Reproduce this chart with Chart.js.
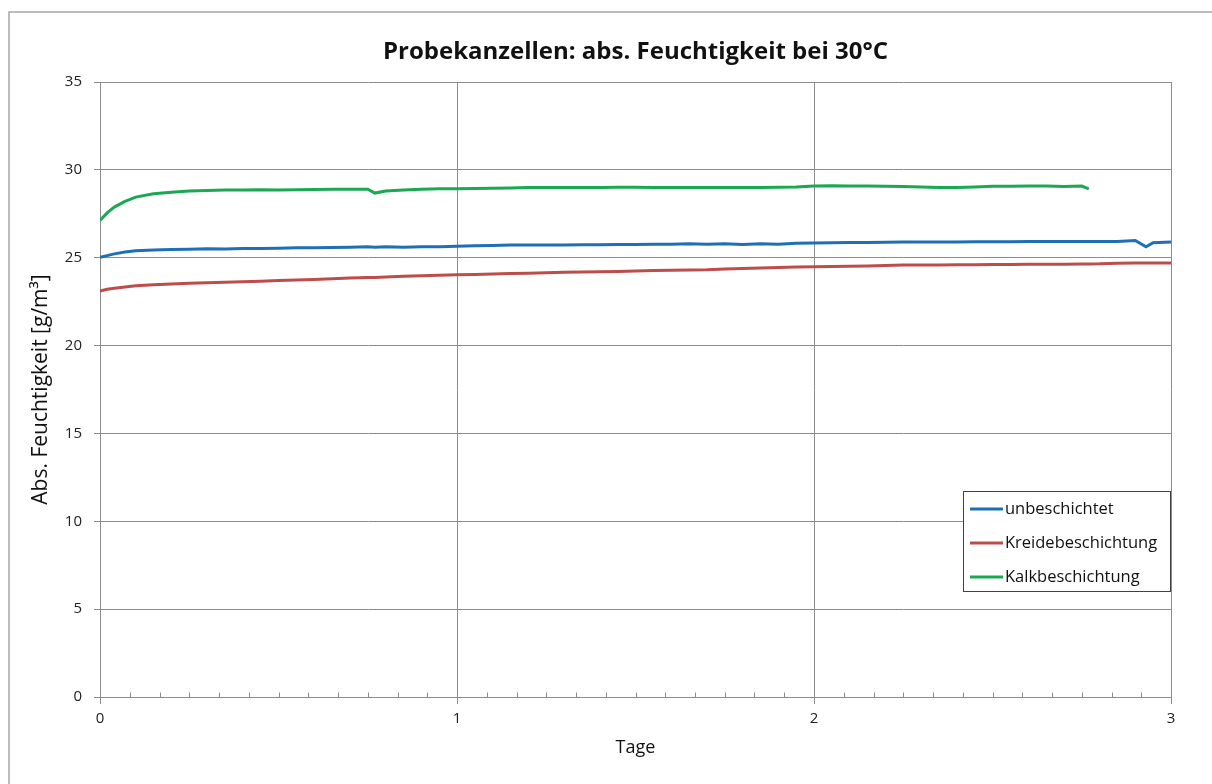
<!DOCTYPE html>
<html>
<head>
<meta charset="utf-8">
<script src="https://cdn.jsdelivr.net/npm/chart.js@4"></script>
<style>
  html, body { margin: 0; padding: 0; background: #fff; }
  #wrap { position: relative; width: 1212px; height: 784px; }
</style>
</head>
<body>
<div id="wrap"><canvas id="chart"></canvas></div>
<script>
// Zeit in Tagen
const tage = [0, 0.02, 0.04, 0.07, 0.1, 0.15, 0.2, 0.25, 0.3, 0.35, 0.4, 0.45, 0.5, 0.55, 0.6, 0.65, 0.7, 0.75, 0.77,
  0.8, 0.85, 0.9, 0.95, 1.0, 1.05, 1.1, 1.15, 1.2, 1.25, 1.3, 1.35, 1.4, 1.45, 1.5, 1.55, 1.6, 1.65, 1.7, 1.75,
  1.8, 1.85, 1.9, 1.95, 2.0, 2.05, 2.1, 2.15, 2.2, 2.25, 2.3, 2.35, 2.4, 2.45, 2.5, 2.55, 2.6, 2.65, 2.7, 2.75, 2.77,
  2.8, 2.85, 2.9, 2.93, 2.95, 3.0];

// abs. Feuchtigkeit [g/m³]
const unbeschichtet = [25.02, 25.12, 25.22, 25.32, 25.4, 25.44, 25.47, 25.48, 25.51, 25.5, 25.52, 25.53, 25.54, 25.56, 25.57, 25.58, 25.6, 25.62, 25.6,
  25.62, 25.6, 25.62, 25.63, 25.65, 25.68, 25.7, 25.72, 25.72, 25.72, 25.73, 25.74, 25.74, 25.75, 25.75, 25.76, 25.77, 25.8, 25.76, 25.79,
  25.75, 25.8, 25.77, 25.82, 25.84, 25.85, 25.86, 25.87, 25.88, 25.9, 25.9, 25.9, 25.9, 25.91, 25.91, 25.91, 25.92, 25.92, 25.92, 25.92, 25.92,
  25.92, 25.92, 25.98, 25.62, 25.85, 25.9];

const kreide = [23.1, 23.2, 23.26, 23.33, 23.4, 23.46, 23.5, 23.54, 23.57, 23.6, 23.63, 23.66, 23.7, 23.73, 23.76, 23.8, 23.84, 23.87, 23.88,
  23.9, 23.94, 23.97, 24.0, 24.03, 24.05, 24.08, 24.1, 24.12, 24.15, 24.17, 24.18, 24.2, 24.22, 24.24, 24.27, 24.28, 24.3, 24.31, 24.36,
  24.39, 24.42, 24.44, 24.47, 24.49, 24.5, 24.51, 24.53, 24.56, 24.58, 24.58, 24.59, 24.6, 24.6, 24.62, 24.62, 24.63, 24.63, 24.63, 24.64, 24.64,
  24.65, 24.69, 24.7, 24.7, 24.7, 24.7];

const kalk = [27.12, 27.55, 27.88, 28.2, 28.45, 28.64, 28.73, 28.8, 28.83, 28.85, 28.85, 28.87, 28.86, 28.87, 28.88, 28.9, 28.9, 28.9, 28.68,
  28.8, 28.86, 28.9, 28.92, 28.93, 28.94, 28.96, 28.97, 29.0, 29.0, 29.0, 29.0, 29.0, 29.01, 29.01, 29.0, 29.0, 29.0, 29.0, 29.0,
  29.0, 29.0, 29.01, 29.02, 29.08, 29.1, 29.08, 29.08, 29.07, 29.05, 29.02, 29.0, 29.0, 29.03, 29.06, 29.07, 29.08, 29.08, 29.05, 29.08, 28.92,
  null, null, null, null, null, null];

const serienNamen = ['unbeschichtet', 'Kreidebeschichtung', 'Kalkbeschichtung'];
const serienFarben = ['#1f6fb6', '#bd4d4a', '#1aa852'];
const titel = 'Probekanzellen: abs. Feuchtigkeit bei 30°C';

const FONT = '"Open Sans", "Noto Sans", sans-serif';
const GRID = '#8c8c8c';

const toPoints = (ys) => tage.map((t, i) => ({ x: t, y: ys[i] }));

// Rahmen, Titel, Nebenstriche und Legende im Diagramm
const extrasPlugin = {
  id: 'extras',
  beforeDraw(chart) {
    const ctx = chart.ctx;
    ctx.save();
    ctx.fillStyle = '#fff';
    ctx.fillRect(0, 0, chart.width, chart.height);
    ctx.strokeStyle = '#a6a6a6';
    ctx.lineWidth = 1.5;
    ctx.strokeRect(9, 12, chart.width + 10, chart.height + 10);
    ctx.restore();
  },
  afterDraw(chart) {
    const ctx = chart.ctx;
    const area = chart.chartArea;
    const xs = chart.scales.x;
    const yBase = Math.round(chart.scales.y.getPixelForValue(0)) + 0.5;
    ctx.save();

    // title centred over the plot area
    ctx.fillStyle = '#111';
    ctx.font = 'bold 24px ' + FONT;
    ctx.textAlign = 'center';
    ctx.textBaseline = 'middle';
    ctx.fillText(titel, (area.left + area.right) / 2, 52);

    // minor ticks every 2 hours
    ctx.strokeStyle = GRID;
    ctx.lineWidth = 1;
    ctx.beginPath();
    for (let i = 1; i < 36; i++) {
      if (i % 12 === 0) continue;
      const px = Math.round(xs.getPixelForValue(i / 12)) + 0.5;
      ctx.moveTo(px, yBase);
      ctx.lineTo(px, yBase - 5);
    }
    ctx.stroke();

    // legend box
    const bx = 963.5, by = 491.5, bw = 207, bh = 100;
    ctx.fillStyle = '#fff';
    ctx.fillRect(bx, by, bw, bh);
    ctx.strokeStyle = '#404040';
    ctx.strokeRect(bx, by, bw, bh);
    const rows = [509, 543, 577];
    ctx.font = '16.5px ' + FONT;
    ctx.textBaseline = 'middle';
    ctx.textAlign = 'left';
    chart.data.datasets.forEach((ds, i) => {
      ctx.strokeStyle = ds.borderColor;
      ctx.lineWidth = 3;
      ctx.beginPath();
      ctx.moveTo(970, rows[i]);
      ctx.lineTo(1003, rows[i]);
      ctx.stroke();
      ctx.fillStyle = '#111';
      ctx.fillText(ds.label, 1005, rows[i]);
    });
    ctx.restore();
  }
};

const datasets = [unbeschichtet, kreide, kalk].map((ys, i) => ({
  label: serienNamen[i],
  data: toPoints(ys),
  borderColor: serienFarben[i],
  backgroundColor: serienFarben[i],
  borderWidth: 3,
  pointRadius: 0,
  tension: 0,
  spanGaps: false
}));

new Chart(document.getElementById('chart'), {
  type: 'line',
  data: { datasets },
  options: {
    responsive: true,
    maintainAspectRatio: false,
    animation: false,
    layout: { padding: { left: 0, right: 41, top: 82, bottom: 0 } },
    plugins: {
      legend: { display: false },
      tooltip: { enabled: false },
      title: { display: false }
    },
    scales: {
      x: {
        type: 'linear',
        min: 0,
        max: 3,
        ticks: { stepSize: 1, color: '#222', font: { family: FONT, size: 15 }, padding: 6, maxRotation: 0 },
        grid: { color: GRID, lineWidth: 1, tickLength: 7, drawTicks: true },
        border: { color: GRID },
        title: {
          display: true,
          text: 'Tage',
          color: '#111',
          font: { family: FONT, size: 18, lineHeight: 1.2 },
          padding: { top: 0, bottom: 25 }
        },
        afterFit(scale) { scale.height = 87; }
      },
      y: {
        min: 0,
        max: 35,
        ticks: { stepSize: 5, color: '#222', font: { family: FONT, size: 15 }, padding: 12 },
        grid: { color: GRID, lineWidth: 1, tickLength: 6 },
        border: { color: GRID },
        title: {
          display: true,
          text: 'Abs. Feuchtigkeit [g/m³]',
          color: '#111',
          font: { family: FONT, size: 21, lineHeight: 1.2 },
          padding: { top: 28, bottom: 0 }
        },
        afterFit(scale) { scale.width = 100; }
      }
    }
  },
  plugins: [extrasPlugin]
});
</script>
</body>
</html>
